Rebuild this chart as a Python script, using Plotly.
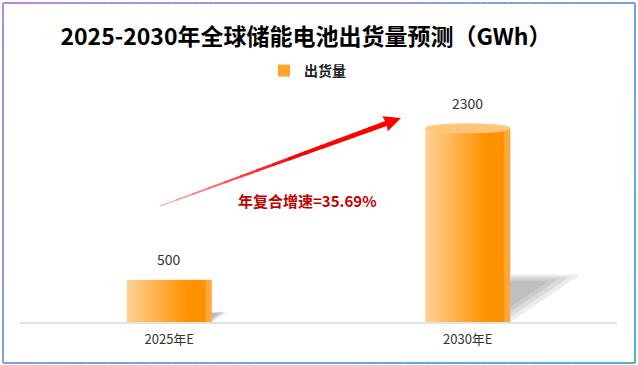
import plotly.graph_objects as go

# ---------------- data ----------------
categories = ["2025年E", "2030年E"]
shipments = [500, 2300]
value_labels = ["500", "2300"]
series_name = "出货量"
title_text = "2025-2030年全球储能电池出货量预测（GWh）"
cagr_text = "年复合增速=35.69%"

# ---------------- layout constants ----------------
W, H = 638, 365
PL, PR, PT, PB = 20, 617, 103, 322     # plot area in pixels
YMAX = 2600
BW = 0.285                              # bar width (category units)
NSTRIP = 28
cylinder_style = [False, True]          # which bars get the cylinder cap
FONT = "Noto Sans CJK SC, Microsoft YaHei, sans-serif"


def pp(x, y):
    """pixel -> paper coordinates"""
    return (x - PL) / (PR - PL), (PB - y) / (PB - PT)


def lerp(c1, c2, t):
    return tuple(int(round(c1[i] + (c2[i] - c1[i]) * t)) for i in range(3))


fig = go.Figure()
xs = list(range(len(categories)))
vmax = max(shipments)

# ---------------- shadows ----------------
for i, v in zip(xs, shipments):
    xr = i + BW / 2
    h = 0.245 * v
    dx = 0.235 * v / vmax
    pts = [(xr, h), (xr + dx, h), (xr, 0)]
    ax_, ay_ = xr, 0.7 * h
    for s in [1.0, 0.85, 0.7, 0.55]:
        px_ = [ax_ + s * (p[0] - ax_) for p in pts]
        py_ = [ay_ + s * (p[1] - ay_) for p in pts]
        fig.add_trace(go.Scatter(
            x=px_ + [px_[0]], y=py_ + [py_[0]], mode="lines", fill="toself",
            fillcolor="rgba(110,110,110,0.13)", line=dict(width=0),
            hoverinfo="skip", showlegend=False))

# ---------------- gradient bars (strips) ----------------
light = (255, 208, 146)
mid = (255, 146, 0)
sw = BW / NSTRIP
for k in range(NSTRIP):
    t = k / (NSTRIP - 1)
    if t < 0.72:
        c = lerp(light, mid, t / 0.72)
    elif t < 0.96:
        c = mid
    else:
        c = (255, 168, 60)
    wdt = sw * 1.25 if k < NSTRIP - 1 else sw
    fig.add_trace(go.Bar(
        x=xs, y=shipments, width=[wdt] * len(xs), offset=[-BW / 2 + k * sw] * len(xs),
        marker=dict(color="rgb(%d,%d,%d)" % c, line=dict(width=0)),
        name=series_name, showlegend=(k == 14), hoverinfo="skip"))

# cylinder cap
cap_px = 4.5
cap_units = cap_px * YMAX / (PB - PT)
for i, v, cyl in zip(xs, shipments, cylinder_style):
    if cyl:
        fig.add_shape(type="circle", xref="x", yref="y",
                      x0=i - BW / 2, x1=i + BW / 2, y0=v - cap_units, y1=v + cap_units,
                      fillcolor="rgb(255,196,122)", line=dict(color="rgb(255,205,140)", width=1),
                      layer="above")

# value labels
for i, v, lab, cyl in zip(xs, shipments, value_labels, cylinder_style):
    fig.add_annotation(x=i, y=v, text=lab, showarrow=False, xref="x", yref="y",
                       yanchor="middle", yshift=21 + (cap_px if cyl else 0),
                       font=dict(family=FONT, size=14, color="#333333"))

# ---------------- arrow ----------------
tail = (160.0, 206.0)
tip = (401.0, 118.0)
ddx, ddy = tip[0] - tail[0], tip[1] - tail[1]
L = (ddx ** 2 + ddy ** 2) ** 0.5
ux, uy = ddx / L, ddy / L
nx, ny = -uy, ux
head_len, head_hw = 17.0, 8.0
bx, by = tip[0] - head_len * ux, tip[1] - head_len * uy
nseg = 14
for s in range(nseg):
    t0, t1 = s / nseg, (s + 1) / nseg
    x0, y0 = tail[0] + (bx - tail[0]) * t0, tail[1] + (by - tail[1]) * t0
    x1, y1 = tail[0] + (bx - tail[0]) * (t1 + 0.01), tail[1] + (by - tail[1]) * (t1 + 0.01)
    w0, w1 = 0.5 + 2.1 * t0, 0.5 + 2.1 * t1
    c = lerp((255, 175, 175), (255, 0, 0), min(1, (t0 + t1) / 2 / 0.6))
    p = [(x0 + w0 * nx, y0 + w0 * ny), (x1 + w1 * nx, y1 + w1 * ny),
         (x1 - w1 * nx, y1 - w1 * ny), (x0 - w0 * nx, y0 - w0 * ny)]
    path = "M " + " L ".join("%.5f,%.5f" % pp(*q) for q in p) + " Z"
    fig.add_shape(type="path", xref="paper", yref="paper", path=path,
                  fillcolor="rgb(%d,%d,%d)" % c, line=dict(width=0), layer="above")
hp = [tip, (bx + head_hw * nx, by + head_hw * ny), (bx + 1.5 * ux, by + 1.5 * uy),
      (bx - head_hw * nx, by - head_hw * ny)]
path = "M " + " L ".join("%.5f,%.5f" % pp(*q) for q in hp) + " Z"
fig.add_shape(type="path", xref="paper", yref="paper", path=path,
              fillcolor="rgb(255,0,0)", line=dict(width=0), layer="above")

# CAGR text
cx, cy = pp(307, 200)
fig.add_annotation(x=cx, y=cy, xref="paper", yref="paper", text="<b>" + cagr_text + "</b>",
                   showarrow=False, xanchor="center", yanchor="middle",
                   font=dict(family=FONT, size=15, color="#C00000"))

# ---------------- border with gradient ----------------
bl, br, bt, bb = 3, 635, 3, 363
c1, c2 = (182, 140, 212), (70, 184, 200)


def bcol(x, y):
    t = 0.55 * (x - bl) / (br - bl) + 0.45 * (y - bt) / (bb - bt)
    return "rgb(%d,%d,%d)" % lerp(c1, c2, t)


def side(xa, ya, xb, yb, n):
    for s in range(n):
        t0, t1 = s / n, (s + 1) / n
        xx0, yy0 = xa + (xb - xa) * t0, ya + (yb - ya) * t0
        xx1, yy1 = xa + (xb - xa) * t1, ya + (yb - ya) * t1
        p0, p1 = pp(xx0, yy0), pp(xx1, yy1)
        fig.add_shape(type="line", xref="paper", yref="paper", x0=p0[0], y0=p0[1],
                      x1=p1[0], y1=p1[1],
                      line=dict(color=bcol((xx0 + xx1) / 2, (yy0 + yy1) / 2), width=2),
                      layer="above")


side(bl, bt, br, bt, 30)
side(bl, bb, br, bb, 30)
side(bl, bt, bl, bb, 15)
side(br, bt, br, bb, 15)

# ---------------- layout ----------------
lx, ly = pp(264, 71)
fig.update_layout(
    width=W, height=H,
    margin=dict(l=PL, r=W - PR, t=PT, b=H - PB),
    paper_bgcolor="white", plot_bgcolor="white",
    barmode="overlay",
    font=dict(family=FONT),
    title=dict(text="<b>" + title_text + "</b>", x=306 / W, xanchor="center",
               y=1 - 37 / H, yanchor="middle", xref="container", yref="container",
               font=dict(family=FONT, size=23, color="#000000")),
    showlegend=True,
    legend=dict(orientation="h", x=lx, y=ly, xanchor="left", yanchor="middle",
                font=dict(family=FONT, size=14, color="#222222", weight="bold"),
                bgcolor="rgba(0,0,0,0)"),
    xaxis=dict(range=[-0.5, 1.5], tickvals=xs, ticktext=categories, showgrid=False,
               zeroline=False, showline=True, linecolor="#E2E2E2", linewidth=2,
               ticks="", ticklabelstandoff=4,
               tickfont=dict(family=FONT, size=13, color="#333333"), fixedrange=True),
    yaxis=dict(range=[0, YMAX], visible=False, showgrid=False, zeroline=False,
               fixedrange=True),
)

fig.write_html("out.html", config={"displayModeBar": False},
               post_script="document.body.style.margin='0px';document.body.style.padding='0px';")
